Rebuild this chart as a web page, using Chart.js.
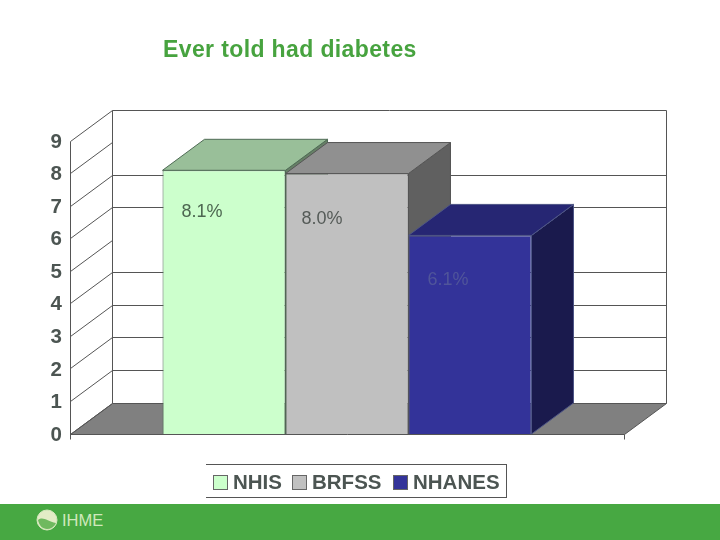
<!DOCTYPE html>
<html>
<head>
<meta charset="utf-8">
<script src="https://cdn.jsdelivr.net/npm/chart.js@4"></script>
<style>
  body { margin: 0; background: #fff; font-family: "Liberation Sans", Arial, sans-serif; }
  #wrap { position: relative; width: 720px; height: 540px; overflow: hidden; }
  canvas { position: absolute; left: 0; top: 0; }
  #title { position: absolute; left: 163px; top: 36px; font-size: 23px; font-weight: bold; letter-spacing: 0.38px; color: #47a33f; white-space: nowrap; }
  #legend { position: absolute; left: 206px; top: 464px; width: 300px; height: 32px; border: 1px solid #555; border-left: none; }
  #legend span { position: absolute; top: 5px; font-size: 20.5px; font-weight: bold; color: #4c5552; line-height: 23px; }
  #legend i { position: absolute; top: 10px; width: 13px; height: 13px; border: 1px solid #666; }
  #footer { position: absolute; left: 0; top: 504px; width: 720px; height: 36px; background: #47a842; }
  #footer svg { position: absolute; left: 36px; top: 5px; }
  #footer span { position: absolute; left: 62px; top: 7px; font-size: 16.5px; color: #d0e8bc; }
</style>
</head>
<body>
<div id="wrap">
  <canvas id="grafico" width="720" height="540"></canvas>
  <div id="title">Ever told had diabetes</div>
  <div id="legend"></div>
  <div id="footer">
    <svg width="22" height="22" viewBox="0 0 22 22">
      <circle cx="11" cy="11" r="10" fill="#e3ecc6" stroke="#d5e8bd" stroke-width="1"/>
      <path d="M2 11 C7 7 11 12 20 14 C18 18 15 20 11 20 C6 20 3 16 2 11 Z" fill="#6fb95f"/>
    </svg>
    <span>IHME</span>
  </div>
</div>
<script>
const categorias = ['NHIS', 'BRFSS', 'NHANES'];
const valores = [8.1, 8.0, 6.1];
const etiquetas = ['8.1%', '8.0%', '6.1%'];
const ticksY = [0, 1, 2, 3, 4, 5, 6, 7, 8, 9];
// en la imagen estas dos lineas de la pared del fondo no aparecen
const sinLinea = [5, 8];

const coloresFrente = ['#ccffcc', '#c0c0c0', '#333399'];
const coloresArriba = ['#99bf99', '#909090', '#262673'];
const coloresLado = ['#668066', '#606060', '#1a1a4d'];
const coloresBorde = ['#4f6b55', '#555555', '#4d5585'];
const coloresEtiqueta = ['#4c6650', '#555b58', '#50559a'];
const etiquetaDx = [19, 16, 19];
const etiquetaDy = [42, 45, 45];

// profundidad del efecto 3D
const dx = 42;
const dy = 31;

function poligono(ctx, puntos, relleno, borde) {
    ctx.beginPath();
    puntos.forEach((p, i) => i ? ctx.lineTo(p[0], p[1]) : ctx.moveTo(p[0], p[1]));
    ctx.closePath();
    if (relleno) { ctx.fillStyle = relleno; ctx.fill(); }
    if (borde) { ctx.strokeStyle = borde; ctx.lineWidth = 1; ctx.stroke(); }
}

function linea(ctx, x1, y1, x2, y2) {
    ctx.beginPath();
    ctx.moveTo(x1, y1);
    ctx.lineTo(x2, y2);
    ctx.stroke();
}

const caja3d = {
    id: 'caja3d',
    beforeDatasetsDraw(chart) {
        const ctx = chart.ctx;
        const area = chart.chartArea;
        const y = chart.scales.y;
        const izq = area.left + 0.5;
        const der = area.right + 0.5;
        const base = y.getPixelForValue(0) + 0.5;
        const tope = y.getPixelForValue(ticksY[ticksY.length - 1]) + 0.5;

        ctx.save();
        // piso
        poligono(ctx, [[izq, base], [izq + dx, base - dy], [der + dx, base - dy], [der, base]], '#808080', '#555555');
        // paredes
        ctx.strokeStyle = '#555555';
        ctx.lineWidth = 1;
        linea(ctx, izq, tope, izq, base + 5);
        linea(ctx, der, base, der, base + 5);
        linea(ctx, izq + dx, tope - dy, izq + dx, base - dy);
        linea(ctx, der + dx, tope - dy, der + dx, base - dy);
        // rejilla
        ticksY.forEach(t => {
            const py = Math.floor(y.getPixelForValue(t)) + 0.5;
            linea(ctx, izq, py, izq + dx, py - dy);
            if (t > 0 && !sinLinea.includes(t)) linea(ctx, izq + dx, py - dy, der + dx, py - dy);
        });

        // lado y tapa de cada barra, de atras hacia adelante
        chart.data.datasets.forEach((ds, i) => {
            const b = chart.getDatasetMeta(i).data[0];
            const x1 = b.x - b.width / 2;
            const x2 = b.x + b.width / 2;
            poligono(ctx, [[x2, b.y], [x2 + dx, b.y - dy], [x2 + dx, b.base - dy], [x2, b.base]], coloresLado[i], coloresBorde[i]);
            poligono(ctx, [[x1, b.y], [x1 + dx, b.y - dy], [x2 + dx, b.y - dy], [x2, b.y]], coloresArriba[i], coloresBorde[i]);
        });
        ctx.restore();
    },
    afterDatasetsDraw(chart) {
        const ctx = chart.ctx;
        ctx.save();
        ctx.font = '18px "Liberation Sans", Arial, sans-serif';
        ctx.textAlign = 'left';
        ctx.textBaseline = 'middle';
        chart.data.datasets.forEach((ds, i) => {
            const b = chart.getDatasetMeta(i).data[0];
            ctx.fillStyle = coloresEtiqueta[i];
            ctx.fillText(etiquetas[i], b.x - b.width / 2 + etiquetaDx[i], b.y + etiquetaDy[i]);
        });
        ctx.restore();
    }
};

new Chart(document.getElementById('grafico'), {
    type: 'bar',
    data: {
        labels: [''],
        datasets: categorias.map((c, i) => ({
            label: c,
            data: [valores[i]],
            backgroundColor: coloresFrente[i],
            borderColor: coloresBorde[i],
            borderWidth: 1
        }))
    },
    options: {
        responsive: false,
        animation: false,
        devicePixelRatio: 1,
        layout: { padding: { left: 0, right: 96, top: 141, bottom: 106 } },
        datasets: { bar: { categoryPercentage: 0.666, barPercentage: 1 } },
        plugins: { legend: { display: false }, title: { display: false }, tooltip: { enabled: false } },
        scales: {
            x: { display: false },
            y: {
                min: 0,
                max: 9,
                afterFit(scale) { scale.width = 70; },
                afterBuildTicks(scale) { scale.ticks = ticksY.map(v => ({ value: v })); },
                border: { display: false },
                grid: { display: false, drawTicks: false },
                ticks: {
                    padding: 8,
                    labelOffset: 1,
                    color: '#4c5552',
                    font: { family: '"Liberation Sans", Arial, sans-serif', size: 20.5, weight: 'bold' }
                }
            }
        }
    },
    plugins: [caja3d]
});

// leyenda
const posLeyenda = [7, 86, 187];
const legend = document.getElementById('legend');
categorias.forEach((c, i) => {
    const cuadro = document.createElement('i');
    cuadro.style.left = posLeyenda[i] + 'px';
    cuadro.style.background = coloresFrente[i];
    legend.appendChild(cuadro);
    const texto = document.createElement('span');
    texto.style.left = (posLeyenda[i] + 20) + 'px';
    texto.innerText = c;
    legend.appendChild(texto);
});
</script>
</body>
</html>
